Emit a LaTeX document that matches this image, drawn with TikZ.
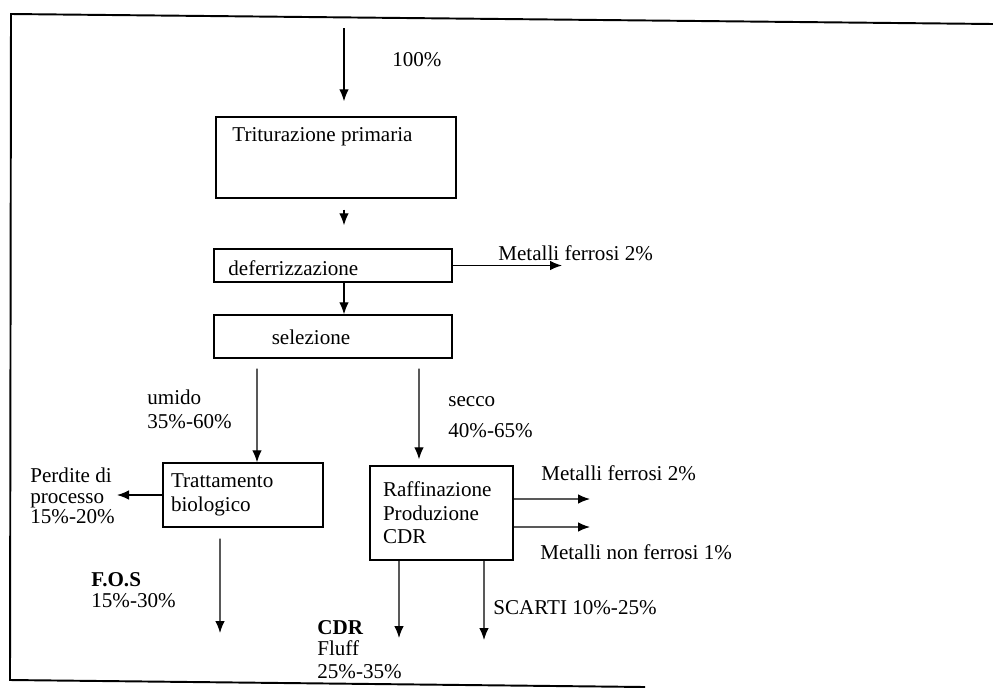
\documentclass[tikz,border=0pt]{standalone}
\usepackage{fontspec}
\setmainfont{Liberation Serif}
\usetikzlibrary{arrows.meta}
\tikzset{
  box/.style={draw, line width=0.8pt, inner sep=0pt},
  flow/.style={line width=0.7pt, -{Latex[length=2.4mm,width=1.9mm]}},
  txt/.style={right, inner sep=0pt, align=left},
}
\begin{document}
\begin{tikzpicture}[x=0.2mm, y=-0.2mm, font=\fontsize{12}{14}\selectfont]
	 \useasboundingbox (0,0) rectangle (993,689);
	 % cornice
	 \draw[line width=1.1pt] (993,24) -- (11,14) -- (10,680) -- (645,687);
	 % blocchi
	 \node[box, minimum width=48mm, minimum height=16.2mm] (trit) at (336,157.5) {};
	 \node[txt] (tritT) at (232,137) {Triturazione primaria};
	 \node[box, minimum width=47.6mm, minimum height=6.6mm] (def) at (333,265.5) {};
	 \node[txt] (defT) at (228,268) {deferrizzazione};
	 \node[box, minimum width=47.6mm, minimum height=8.6mm] (sel) at (333,336.5) {};
	 \node (selT) at (311,337) {selezione};
	 \node[box, minimum height=12.8mm, text width=28.8mm, inner xsep=1.6mm, align=left] (bio) at (243,495) {Trattamento\\biologico};
	 \node[box, minimum height=18.8mm, text width=23.4mm, inner xsep=2.6mm, align=left, font=\fontsize{12}{13.3}\selectfont] (raf) at (441.5,513) {Raffinazione\\Produzione\\CDR};
	 % estremi liberi
	 \coordinate (in) at (344,28);
	 \coordinate (fe1) at (562,266);
	 \coordinate (pp) at (117,493);
	 \coordinate (fos) at (220,633);
	 \coordinate (fe2) at (590,499);
	 \coordinate (nfe) at (590,527);
	 \coordinate (cdr) at (399,638);
	 \coordinate (sc) at (484,640);
	 % flussi
	 \draw[flow, shorten >=3mm] (in) -- (in |- trit.north);
	 \draw[flow, shorten <=2.2mm, shorten >=4.6mm] (trit.south -| in) -- (def.north -| in);
	 \draw[flow] (def.south -| in) -- (sel.north -| in);
	 \draw[flow] (def.east) -- (def.east -| fe1);
	 \draw[flow, shorten <=2mm] ([xshift=-15.2mm]sel.south) -- ([xshift=2.8mm]bio.north);
	 \draw[flow, shorten <=2mm, shorten >=1.2mm] ([xshift=17.2mm]sel.south) -- ([xshift=-4.5mm]raf.north);
	 \draw[flow] (bio.west) -- (bio.west -| pp);
	 \draw[flow, shorten <=2.2mm] ([xshift=-4.6mm]bio.south) -- (fos);
	 \draw[flow] ([yshift=2.8mm]raf.east) -- (fe2);
	 \draw[flow] ([yshift=-2.8mm]raf.east) -- (nfe);
	 \draw[flow] ([xshift=-8.5mm]raf.south) -- (cdr);
	 \draw[flow] ([xshift=8.5mm]raf.south) -- (sc);
	 % etichette
	 \node[txt] (p100) at (392,60) {100\%};
	 \node[txt] (mf1) at (498,253) {Metalli ferrosi 2\%};
	 \node[txt] (umido) at (147,409.5) {umido\\35\%-60\%};
	 \node[txt] (secco) at (448,417.5) {secco\\[3.6pt]40\%-65\%};
	 \node[txt, font=\fontsize{12}{11.6}\selectfont] (perd) at (30,496) {Perdite di\\processo\\15\%-20\%};
	 \node[txt, font=\fontsize{12}{11.6}\selectfont] (fosT) at (91,590) {\textbf{F.O.S}\\15\%-30\%};
	 \node[txt, font=\fontsize{12}{11.6}\selectfont] (cdrT) at (317,650) {\textbf{CDR}\\Fluff\\[1.8pt]25\%-35\%};
	 \node[txt] (scT) at (493,608) {SCARTI 10\%-25\%};
	 \node[txt] (mf2) at (541,473) {Metalli ferrosi 2\%};
	 \node[txt] (mnf) at (540,552) {Metalli non ferrosi 1\%};
\end{tikzpicture}
\end{document}
